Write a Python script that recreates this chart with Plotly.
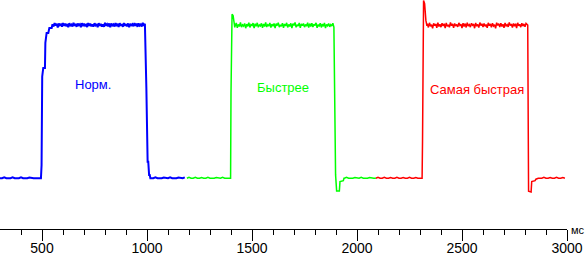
import plotly.graph_objects as go

# ---------------- data (ms, relative level: 0 = low, 100 = high) ----------------
STEP = 5  # ms between plateau samples
BASE_STEP = 10  # ms between baseline samples

# Blue (Норм.)
blue_base1 = [0, 0, 0.6, 0, 0, 0, 0.6, 0, 0, 0, 0.6, 0, 0, 0, 0.5, 0, 0, 0, 0, 0]          # 300..490
blue_rise_t = [495, 498, 501, 506, 514, 516, 522, 530, 535, 546]
blue_rise_v = [0, 8.7, 66.3, 72, 72, 88.3, 94.8, 94.8, 98, 98]
blue_plateau = [100.5, 99.0, 101.2, 99.6, 100.8, 98.4, 101.0, 99.8, 100.4, 98.9, 101.3, 99.5,
                100.9, 99.2, 100.6, 98.6, 101.1, 99.7, 100.3, 99.0, 101.4, 99.4, 100.7, 98.8,
                101.0, 99.9, 100.5, 98.5, 101.2, 99.3, 100.8, 99.6, 100.2, 98.7, 101.3, 99.5,
                100.9, 99.1, 100.4, 98.9, 101.1, 99.8, 100.6, 98.6, 101.2, 99.4, 100.7, 99.0,
                100.3, 98.8, 101.4, 99.6, 100.5, 99.2, 101.0, 98.5, 100.9, 99.7, 100.4, 99.0,
                101.3, 99.3, 100.8, 98.7, 101.1, 99.9, 100.2, 98.9, 101.2, 99.5, 100.6, 99.1,
                101.0, 98.6, 100.7, 99.8, 100.5, 99.2, 101.3, 99.4, 100.9, 98.8, 101.1, 99.6,
                100.3, 99.0, 101.4, 99.5, 100.8]                                            # 550..
blue_fall_t = [997, 1000, 1003, 1006, 1008, 1010, 1013, 1016]
blue_fall_v = [58.7, 13, 10.8, 10.8, 3.3, 2.2, 2.2, 0]
blue_base2 = [0, 0, 0.6, 0, 0, 0, 0.5, 0, 0, 0.6, 0, 0, 0, 0.5, 0, 0, 0.6]                  # 1020..1180

# Green (Быстрее)
green_base1 = [0, 0.6, 0, 0, 0.6, 0, 0, 0.5, 0, 0, 0.6, 0, 0, 0, 0.5, 0, 0, 0.6, 0, 0, 0]   # 1190..1390
green_rise_t = [1398, 1400, 1403, 1405, 1410, 1413, 1418]
green_rise_v = [0, 55.4, 98, 107, 106.2, 101.5, 98.5]
green_plateau = [99.6, 101.3, 98.2, 100.4, 99.0, 101.6, 98.6, 100.1, 99.3, 101.0, 97.9, 100.6,
                 99.1, 101.5, 98.4, 100.3, 99.7, 101.2, 98.0, 100.8, 99.2, 101.4, 98.5, 100.0,
                 99.4, 101.1, 98.1, 100.7, 99.0, 101.6, 98.7, 100.2, 99.5, 101.3, 98.3, 100.5,
                 99.2, 101.0, 97.9, 100.9, 99.6, 101.5, 98.6, 100.1, 99.1, 101.2, 98.2, 100.6,
                 99.4, 101.4, 98.4, 100.4, 99.0, 101.1, 98.0, 100.8, 99.7, 101.6, 98.5, 100.2,
                 99.3, 101.3, 98.1, 100.7, 99.5, 101.0, 98.6, 100.3, 99.2, 101.5, 98.3, 100.9,
                 99.0, 101.2, 98.7, 100.5, 99.6, 101.4, 98.2, 100.0, 99.4, 101.1, 98.4, 100.6,
                 99.1, 101.3, 98.0, 100.4, 99.5, 101.0, 98.8, 100.2, 99.3, 101.2, 98.6]         # 1420..
green_fall_t = [1896, 1898, 1903, 1916, 1919, 1935, 1938]
green_fall_v = [2.2, 2.2, -8.3, -8.3, -2.2, -1.6, 0]
green_base2 = [0, 0.6, 0, 0, 0, 0.5, 0, 0, 0.6, 0, 0, 0, 0.5, 0, 0, 0]                     # 1940..2090

# Red (Самая быстрая)
red_base1 = [0, 0.6, 0, 0, 0.6, 0, 0, 0.5, 0, 0, 0.6, 0, 0, 0.5, 0, 0, 0.6, 0, 0, 0.5, 0, 0]  # 2090..2300
red_rise_t = [2310, 2312, 2313, 2315, 2317, 2322, 2324, 2328, 2333]
red_rise_v = [0, 24, 80, 106, 116, 114, 106, 103, 99.5]
red_plateau = [100.9, 98.4, 101.4, 99.2, 100.2, 97.8, 101.1, 99.6, 100.6, 98.2, 101.5, 99.0,
               100.4, 98.6, 101.2, 99.4, 100.8, 97.9, 101.3, 99.1, 100.1, 98.5, 101.6, 99.5,
               100.7, 98.1, 101.0, 99.3, 100.3, 98.8, 101.4, 99.7, 100.5, 98.0, 101.2, 99.0,
               100.9, 98.4, 101.5, 99.4, 100.2, 98.6, 101.1, 99.8, 100.6, 97.9, 101.3, 99.2,
               100.4, 98.3, 101.6, 99.6, 100.8, 98.7, 101.0, 99.1, 100.3, 98.2, 101.4, 99.5,
               100.7, 98.5, 101.2, 99.3, 100.1, 97.8, 101.5, 99.7, 100.9, 98.6, 101.1, 99.0,
               100.5, 98.1, 101.3, 99.4, 100.2, 98.8, 101.6, 99.6, 100.6, 98.4, 101.0, 99.2,
               100.8, 98.0, 101.4, 99.5, 100.4, 98.6, 101.2, 99.3, 100.7, 98.9, 101.0]          # 2335..
red_fall_t = [2813, 2815, 2817, 2829, 2832, 2848, 2852, 2863]
red_fall_v = [100, 22.8, -8.5, -9, -2.2, -1.6, -0.6, 0]
red_base2 = [0, 0, 0.6, 0, 0, 0.5, 0, 0, 0.6, 0, 0, 0.5, 0]                               # 2870..2990

tick_vals = [500, 1000, 1500, 2000, 2500, 3000]
tick_text = ["500", "1000", "1500", "2000", "2500", "3000"]
minor_vals = [v for v in range(400, 3000, 100) if v % 500]

labels = ["Норм.", "Быстрее", "Самая быстрая"]
label_x = [744, 1646, 2570]
label_y = [61.3, 59.4, 57.6]
colors = ["#0000FF", "#00FF00", "#FF0000"]


def assemble(base1_start, base1, rise_t, rise_v, plat_start, plat, fall_t, fall_v,
             base2_start, base2):
    t, v = [], []
    t += [base1_start + i * BASE_STEP for i in range(len(base1))]
    v += base1
    t += rise_t
    v += rise_v
    t += [plat_start + i * STEP for i in range(len(plat))]
    v += plat
    t += fall_t
    v += fall_v
    t += [base2_start + i * BASE_STEP for i in range(len(base2))]
    v += base2
    return t, v


blue = assemble(300, blue_base1, blue_rise_t, blue_rise_v, 550, blue_plateau[:89],
                blue_fall_t, blue_fall_v, 1020, blue_base2)
green = assemble(1190, green_base1, green_rise_t, green_rise_v, 1420, green_plateau[:95],
                 green_fall_t, green_fall_v, 1940, green_base2)
red = assemble(2090, red_base1, red_rise_t, red_rise_v, 2335, red_plateau[:95],
               red_fall_t, red_fall_v, 2870, red_base2)

fig = go.Figure()
for (t, v), c, w in zip([blue, green, red], colors, [2, 1.5, 1.5]):
    fig.add_trace(go.Scatter(x=t, y=v, mode="lines", line=dict(color=c, width=w, shape="linear"),
                             hoverinfo="skip"))

for txt, x, y, c in zip(labels, label_x, label_y, colors):
    fig.add_annotation(x=x, y=y, xref="x", yref="y", text=txt, showarrow=False,
                       font=dict(family="Liberation Sans, Arial", size=13, color=c),
                       xanchor="center", yanchor="middle")

fig.add_annotation(x=578 / 567, y=-1 / 229, xref="paper", yref="paper", text="мс", showarrow=False,
                   font=dict(family="Liberation Sans, Arial", size=11, color="black"),
                   xanchor="center", yanchor="middle")

fig.update_layout(
    width=588, height=255,
    margin=dict(l=0, r=21, t=0, b=26, pad=0, autoexpand=False),
    paper_bgcolor="white", plot_bgcolor="white",
    showlegend=False,
    xaxis=dict(range=[300, 3000], showline=True, linecolor="black", linewidth=1,
               showgrid=False, zeroline=False, automargin=False,
               ticks="outside", ticklen=11, tickwidth=1, tickcolor="black",
               tickvals=tick_vals, ticktext=tick_text, ticklabelstandoff=-5,
               tickfont=dict(family="Liberation Sans Narrow, Arial Narrow, Liberation Sans", size=14,
                             color="black"),
               minor=dict(tickvals=minor_vals, ticks="outside", ticklen=5, tickwidth=1,
                          tickcolor="black", showgrid=False)),
    yaxis=dict(range=[-33.1, 116.3], visible=False, showgrid=False, zeroline=False,
               automargin=False),
)

fig.write_html("out.html")
